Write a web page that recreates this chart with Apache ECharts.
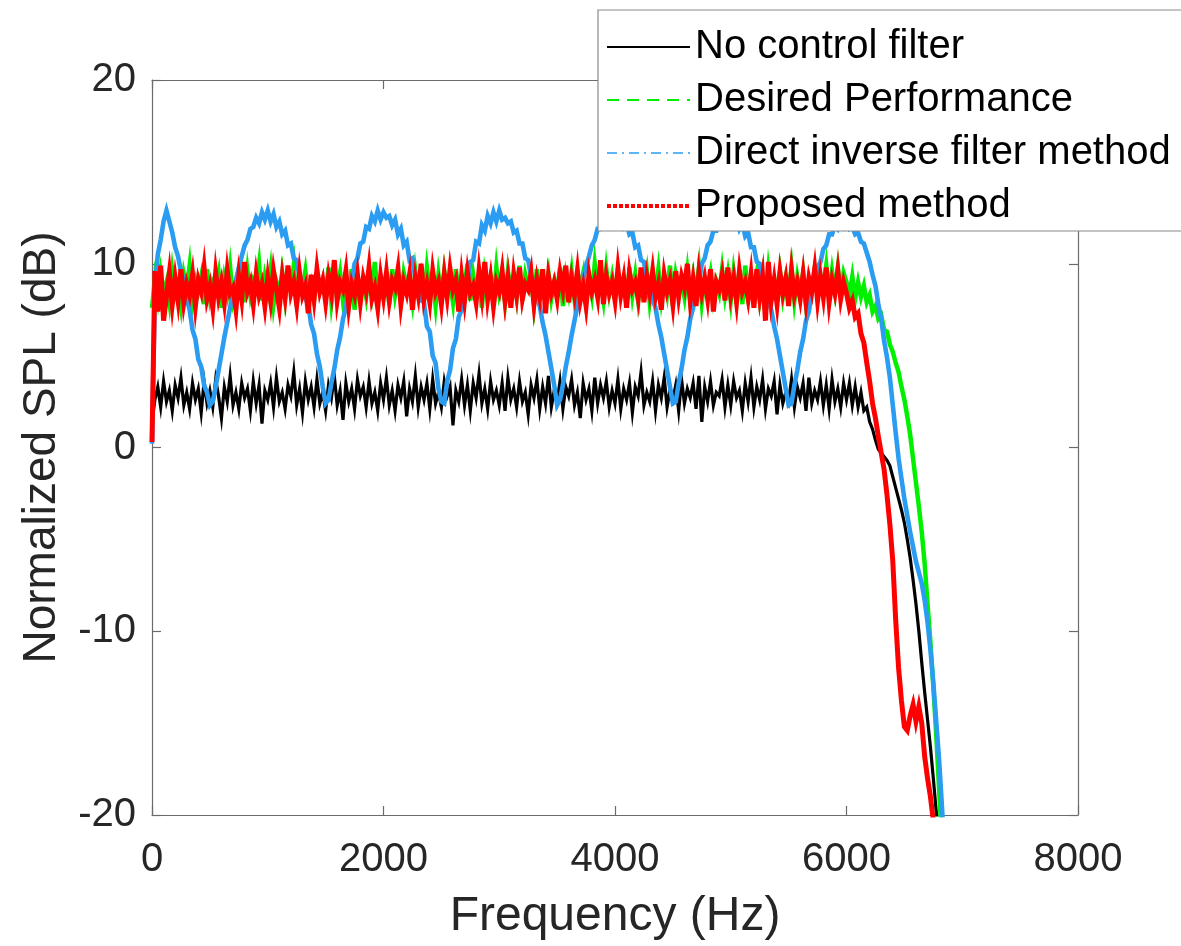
<!DOCTYPE html>
<html>
<head>
<meta charset="utf-8">
<script src="https://cdn.jsdelivr.net/npm/echarts@6/dist/echarts.min.js"></script>
<style>
html,body{margin:0;padding:0;background:#fff;}
#chart{width:1181px;height:946px;}
</style>
</head>
<body>
<div id="chart"></div>
<script>
// Frequency resolution of the spectra (Hz per bin), bins start at 0 Hz
const DF = 25;
const xTicks = [0, 2000, 4000, 6000, 8000];
const yTicks = [-20, -10, 0, 10, 20];
const seriesNames = ['No control filter', 'Desired Performance', 'Direct inverse filter method', 'Proposed method'];

// Normalized SPL (dB), one value per 25 Hz bin
const noControl = [
 1.4,2.6,3.3,2.2,3.6,2.5,3.1,2.0,3.4,2.7,3.8,2.3,3.0,2.1,3.5,2.6,3.2,1.9,3.6,2.4,
 3.1,2.2,3.7,2.8,1.6,3.3,2.5,3.9,2.3,3.0,2.1,3.5,2.7,3.2,2.0,3.6,2.4,3.4,1.3,3.1,
 2.6,3.5,2.2,3.8,2.5,3.0,2.1,3.4,2.8,4.1,2.3,3.2,1.9,3.6,2.6,3.3,2.2,3.7,2.4,3.0,
 2.0,3.4,2.7,3.9,2.3,3.1,1.5,3.5,2.5,3.2,2.1,3.7,2.8,3.3,2.2,3.6,2.4,3.0,2.0,3.5,
 2.6,3.8,2.3,3.1,2.0,3.4,2.7,3.6,1.7,3.2,2.5,3.9,2.2,3.3,2.6,3.5,2.1,3.7,2.4,3.0,
 2.2,3.6,2.8,3.3,1.2,3.1,2.5,3.7,2.3,3.4,2.0,3.5,2.7,4.0,2.4,3.2,2.1,3.6,2.6,3.1,
 2.3,3.5,2.0,3.8,2.6,3.2,2.2,3.6,2.5,3.0,1.8,3.4,2.7,3.7,2.1,3.3,2.4,3.9,2.2,3.1,
 2.5,3.6,2.1,3.3,2.8,3.7,2.3,3.0,1.6,3.5,2.6,3.2,2.0,3.8,2.4,3.4,2.7,3.6,2.2,3.1,
 2.4,3.7,2.1,3.2,2.6,3.5,1.9,3.3,2.8,4.1,2.3,3.0,2.5,3.6,2.0,3.4,2.7,3.8,2.2,3.1,
 2.6,3.4,2.0,3.7,2.4,3.2,2.7,3.5,2.1,3.9,1.4,3.3,2.5,3.6,2.3,3.0,2.8,3.7,2.2,3.4,
 2.3,3.6,2.7,3.1,2.0,3.5,2.5,3.8,2.2,3.3,2.6,3.7,2.1,3.2,2.8,3.6,1.8,3.4,2.4,3.0,
 2.5,3.7,2.2,3.3,2.7,3.5,2.0,3.8,2.4,3.1,2.6,3.6,2.3,3.4,2.1,3.7,2.5,3.2,2.2,3.5,
 2.6,3.5,2.3,3.3,2.2,3.0,2.0,2.2,1.4,1.0,0.4,-0.1,-0.3,-0.5,-0.7,-1.0,-1.6,-2.2,-2.8,-3.4,
 -4.1,-5.0,-6.0,-7.2,-8.5,-10.0,-11.7,-13.3,-14.8,-16.3,-18.0,-19.8,-21.5,-23.0,-25.0,-27.0
];

const desired = [
 7.6,9.2,8.1,9.5,8.4,9.0,7.9,9.6,8.3,8.8,7.7,9.4,8.6,9.9,8.0,9.1,8.5,9.3,7.8,9.7,
 8.2,9.0,8.7,9.5,7.6,9.2,8.4,9.8,8.1,8.9,8.6,9.4,7.9,9.6,8.3,9.1,8.8,10.0,8.0,9.3,
 8.5,9.7,7.8,9.0,8.4,9.5,8.1,9.2,8.7,9.9,7.7,9.3,8.6,9.6,8.2,8.9,8.0,9.4,8.5,9.1,
 8.3,9.8,7.9,9.2,8.6,9.5,8.0,9.0,8.4,9.7,7.5,9.3,8.7,9.1,8.2,9.6,8.5,10.1,8.1,9.0,
 8.6,9.4,7.8,9.7,8.3,9.2,8.0,9.5,8.8,9.0,7.9,9.6,8.4,9.3,8.1,9.8,8.6,9.1,7.7,9.4,
 8.2,9.6,8.5,9.0,7.9,9.7,8.3,9.2,8.7,10.0,8.0,9.4,8.4,9.1,7.6,9.5,8.6,9.3,8.1,9.8,
 8.4,9.1,7.9,9.6,8.5,9.3,8.2,9.9,8.0,9.4,8.7,9.0,7.8,9.7,8.3,9.2,8.6,9.5,8.1,9.0,
 8.5,9.8,7.7,9.3,8.4,9.6,8.1,9.1,8.8,9.5,7.9,9.2,8.3,10.0,8.6,9.0,8.0,9.7,8.4,9.3,
 8.2,9.5,8.6,9.1,7.8,9.8,8.3,9.4,8.0,9.2,8.7,9.6,7.9,9.0,8.5,9.7,8.1,9.3,8.4,9.9,
 7.7,9.4,8.6,9.1,8.2,9.6,8.0,9.3,8.5,9.8,7.9,9.2,8.7,9.5,8.1,9.0,8.4,9.7,8.3,9.4,
 8.0,9.6,8.5,9.2,7.8,9.9,8.3,9.1,8.6,9.5,8.1,9.3,7.9,9.7,8.4,9.0,8.7,9.6,8.2,9.2,
 8.5,9.8,8.0,9.3,8.4,9.5,7.8,9.1,8.6,9.7,8.2,9.4,8.7,9.9,8.3,9.6,8.5,9.8,8.4,9.5,
 9.0,8.3,9.3,8.1,9.0,8.2,8.8,7.9,8.3,7.4,7.7,7.0,7.2,6.4,6.3,5.6,5.2,4.6,4.1,3.3,
 2.6,1.7,0.7,-0.6,-1.9,-3.2,-4.6,-6.3,-8.5,-10.6,-13.0,-15.6,-18.6,-21.5,-24.0
];

const directInverse = [
 0.2,8.6,10.5,11.3,12.3,12.9,12.3,11.7,10.9,10.4,9.6,9.1,8.1,7.5,6.4,5.9,4.8,4.4,3.4,3.0,
 2.3,2.5,3.3,4.2,5.1,6.0,6.8,7.6,8.4,9.1,9.8,10.4,11.0,11.3,11.9,12.0,12.5,12.2,12.8,12.4,
 12.9,12.3,12.7,12.0,12.3,11.6,11.8,11.0,11.1,10.3,10.2,9.3,9.1,8.1,7.8,6.7,6.2,5.1,4.4,3.3,
 2.4,2.6,3.5,4.3,5.3,6.0,7.0,7.6,8.6,9.0,10.0,10.3,11.1,11.2,12.0,11.9,12.6,12.3,12.9,12.4,
 12.8,12.5,12.6,12.1,12.4,11.6,11.9,11.0,11.2,10.2,10.3,9.2,9.2,8.0,7.9,6.6,6.3,5.0,4.6,3.2,
 2.5,2.4,3.6,4.2,5.4,5.9,7.1,7.5,8.7,8.9,10.1,10.2,11.2,11.1,12.1,11.8,12.6,12.2,12.8,12.3,
 12.9,12.4,12.5,12.2,12.3,11.7,11.8,11.1,11.1,10.3,10.2,9.3,9.0,8.2,7.7,6.8,6.1,5.2,4.3,3.4,
 2.3,2.6,3.4,4.4,5.2,6.1,6.9,7.7,8.5,9.1,9.9,10.4,11.0,11.3,11.9,11.9,12.5,12.2,12.7,12.3,
 12.8,12.3,12.6,12.0,12.2,11.6,11.7,10.9,11.0,10.2,10.1,9.2,8.9,8.1,7.6,6.7,6.0,5.1,4.2,3.3,
 2.4,2.5,3.5,4.3,5.3,6.0,7.0,7.6,8.6,9.0,10.0,10.3,11.0,11.2,11.8,11.8,12.4,12.1,12.6,12.2,
 12.7,12.2,12.5,11.9,12.2,11.5,11.7,10.9,10.9,10.1,10.0,9.1,8.8,8.0,7.5,6.6,5.9,5.0,4.1,3.2,
 2.3,2.4,3.4,4.2,5.2,5.9,6.9,7.4,8.5,8.8,9.8,10.1,10.8,11.0,11.6,11.6,12.1,11.9,12.3,12.0,
 12.3,11.9,12.0,11.6,11.7,11.2,11.1,10.6,10.1,9.4,8.8,7.8,7.0,5.8,4.9,3.8,2.3,0.8,-0.6,-1.7,
 -2.8,-3.7,-4.6,-5.4,-6.2,-6.8,-7.4,-8.3,-9.5,-11.0,-12.8,-14.9,-17.0,-19.6,-22.5,-25.0
];

const proposed = [
 0.3,9.6,7.4,9.9,6.9,8.2,9.5,7.8,9.2,8.0,9.7,7.9,8.9,8.3,9.4,7.7,9.1,8.5,9.8,8.1,
 8.8,7.6,9.5,8.2,9.0,7.9,9.6,8.4,8.7,7.5,9.3,8.1,10.1,8.5,9.0,7.8,9.4,8.3,8.9,7.7,
 9.2,8.0,9.6,8.6,7.6,9.3,8.2,9.9,8.4,9.0,7.8,9.5,8.3,8.8,7.3,9.4,8.1,9.7,8.5,9.1,
 7.9,9.3,8.4,10.2,8.0,9.0,8.6,9.6,7.7,8.9,8.3,9.4,7.9,9.2,8.5,9.8,8.1,8.7,7.6,9.3,
 8.2,9.5,8.0,9.1,8.7,9.7,7.8,9.0,8.4,9.4,7.5,9.2,8.3,10.0,8.1,8.9,7.9,9.6,8.5,9.0,
 7.8,9.4,8.2,9.7,8.6,9.1,7.4,9.3,8.0,9.5,8.4,8.8,7.9,9.6,8.3,10.1,8.1,9.2,7.7,9.0,
 8.5,9.6,8.0,9.2,7.6,9.4,8.3,9.8,8.1,8.9,8.6,9.5,7.8,9.1,8.2,9.7,7.3,9.3,8.4,9.0,
 8.1,9.5,8.6,9.9,7.9,9.2,8.3,9.6,8.0,8.8,7.7,9.4,8.5,9.1,8.2,10.2,7.8,9.3,8.4,9.0,
 8.0,9.7,8.3,9.2,7.6,9.5,8.6,9.0,8.1,9.8,7.9,9.3,8.4,9.6,8.2,8.9,7.5,9.4,8.5,9.1,
 7.8,9.6,8.2,9.3,8.7,10.0,8.0,9.1,7.7,9.5,8.4,9.2,8.1,9.7,7.4,9.0,8.6,9.4,8.0,9.8,
 8.3,9.2,7.9,9.6,8.5,9.0,8.1,9.4,7.6,9.7,8.2,9.3,6.9,10.1,8.0,9.1,7.8,9.5,8.4,9.2,
 7.7,9.6,8.3,9.0,8.1,9.4,7.9,9.2,8.5,9.7,8.0,9.3,8.2,9.8,7.9,9.1,8.4,9.6,8.1,9.0,
 8.4,7.6,8.0,7.1,7.3,6.2,5.7,4.6,3.6,2.4,1.6,0.6,-0.3,-1.2,-2.6,-4.2,-6.2,-9.4,-12.0,-13.8,
 -15.2,-15.4,-14.6,-14.0,-14.9,-14.1,-15.0,-16.8,-18.0,-19.0,-20.3,-22.0,-24.0
];

const FONT = '"Liberation Sans", Arial, Helvetica, sans-serif';
const AXIS_COLOR = '#6b6b6b';
const TEXT_COLOR = '#262626';

function toXY(arr) { return arr.map((v, i) => [i * DF, v]); }

const colors = ['#000000', '#00f000', '#2a9df2', '#ff0000'];
const widths = [3.2, 4.5, 4.6, 5];
const legendStyles = [
  { type: 'solid', width: 2 },
  { type: [12, 8], width: 2 },
  { type: [10, 5, 2, 5], width: 1.6 },
  { type: [4, 2], width: 4 }
];
const values = [noControl, desired, directInverse, proposed];

const chart = echarts.init(document.getElementById('chart'), null, { renderer: 'canvas' });

const baseAxisCommon = {
  type: 'value',
  splitLine: { show: false },
  axisLine: { show: true, onZero: false, lineStyle: { color: AXIS_COLOR, width: 1.2 } },
  axisTick: { show: true, inside: true, length: 9, lineStyle: { color: AXIS_COLOR, width: 1.2 } }
};

const option = {
  animation: false,
  backgroundColor: '#ffffff',
  grid: { left: 152, right: 103, top: 80, bottom: 131, containLabel: false },
  xAxis: [
    Object.assign({}, baseAxisCommon, {
      position: 'bottom', min: xTicks[0], max: xTicks[xTicks.length - 1], interval: xTicks[1] - xTicks[0],
      axisLabel: { fontSize: 40, color: TEXT_COLOR, fontFamily: FONT, margin: 25, formatter: v => String(v) },
      name: 'Frequency (Hz)', nameLocation: 'middle', nameGap: 78,
      nameTextStyle: { fontSize: 48, color: TEXT_COLOR, fontFamily: FONT }
    }),
    Object.assign({}, baseAxisCommon, {
      position: 'top', min: xTicks[0], max: xTicks[xTicks.length - 1], interval: xTicks[1] - xTicks[0],
      axisLabel: { show: false }
    })
  ],
  yAxis: [
    Object.assign({}, baseAxisCommon, {
      position: 'left', min: yTicks[0], max: yTicks[yTicks.length - 1], interval: yTicks[1] - yTicks[0],
      axisLabel: { fontSize: 40, color: TEXT_COLOR, fontFamily: FONT, margin: 16, formatter: v => String(v) },
      name: 'Normalized SPL (dB)', nameLocation: 'middle', nameGap: 87, nameRotate: 90,
      nameTextStyle: { fontSize: 46, color: TEXT_COLOR, fontFamily: FONT }
    }),
    Object.assign({}, baseAxisCommon, {
      position: 'right', min: yTicks[0], max: yTicks[yTicks.length - 1], interval: yTicks[1] - yTicks[0],
      axisLabel: { show: false }
    })
  ],
  legend: {
    orient: 'vertical',
    left: 598, top: 10,
    padding: [17, 20, 5, 7],
    itemGap: 13,
    itemWidth: 83,
    itemHeight: 40,
    backgroundColor: '#ffffff',
    borderColor: '#8a8a8a',
    borderWidth: 1.2,
    borderRadius: 0,
    z: 20,
    textStyle: { fontSize: 40, color: '#000', fontFamily: FONT },
    data: seriesNames.map((n, i) => ({
      name: n,
      itemStyle: { color: 'rgba(0,0,0,0)', borderColor: 'rgba(0,0,0,0)', borderWidth: 0 },
      lineStyle: { color: colors[i], type: legendStyles[i].type, width: legendStyles[i].width }
    }))
  },
  series: seriesNames.map((n, i) => ({
    name: n,
    type: 'line',
    xAxisIndex: 0,
    yAxisIndex: 0,
    data: toXY(values[i]),
    symbol: 'none',
    showSymbol: false,
    clip: true,
    z: 2 + i,
    lineStyle: { color: colors[i], width: widths[i], join: 'miter' },
    itemStyle: { color: colors[i] },
    emphasis: { disabled: true }
  }))
};

chart.setOption(option);
</script>
</body>
</html>
